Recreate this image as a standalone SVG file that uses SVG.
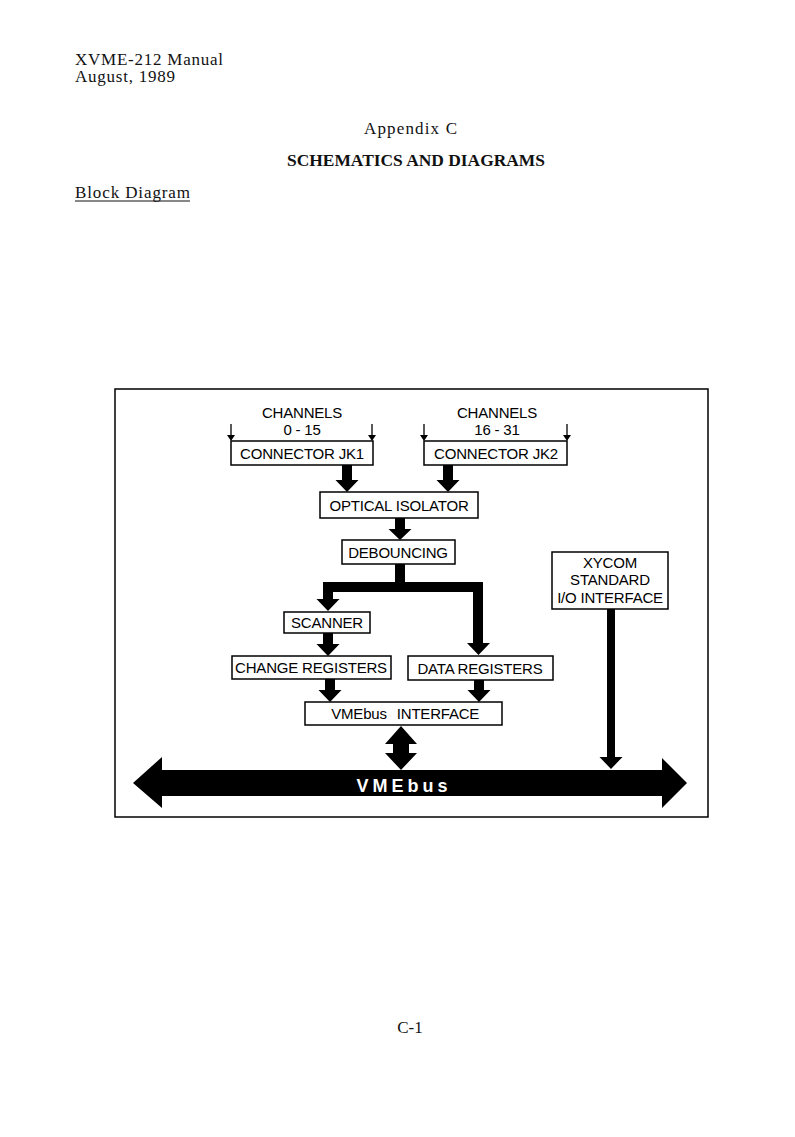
<svg xmlns="http://www.w3.org/2000/svg" width="795" height="1137" viewBox="0 0 795 1137">
<style>
.hd{font-family:"Liberation Serif","Times New Roman",serif;font-size:17px;fill:#111}
.t{font-family:"Liberation Sans",Arial,sans-serif;font-size:15px;fill:#000;text-anchor:middle;letter-spacing:-0.2px}
.box{fill:#fff;stroke:#000;stroke-width:1.5}
.fat{fill:#000;stroke:none}
.thin{stroke:#000;stroke-width:1.3;fill:none}
</style>
<rect width="795" height="1137" fill="#fff"/>
<g id="header">
<text class="hd" x="75" y="65" textLength="148" lengthAdjust="spacing">XVME-212 Manual</text>
<text class="hd" x="75" y="82" textLength="100" lengthAdjust="spacing">August, 1989</text>
<text class="hd" x="364" y="134" textLength="93" lengthAdjust="spacing">Appendix C</text>
<text class="hd" x="287" y="166" font-weight="bold" font-size="15" textLength="258" lengthAdjust="spacingAndGlyphs">SCHEMATICS AND DIAGRAMS</text>
<text class="hd" x="75" y="198" textLength="115" lengthAdjust="spacing">Block Diagram</text>
<line x1="75" y1="201" x2="190" y2="201" stroke="#111" stroke-width="1"/>
<text class="hd" x="410" y="1033" text-anchor="middle">C-1</text>
</g>
<rect id="frame" x="115" y="389" width="593" height="428" fill="none" stroke="#000" stroke-width="1.5"/>
<g id="connectors">
<line class="thin" x1="231" y1="424" x2="231" y2="436"/><path class="fat" d="M227,435 H235 L231,441 Z"/>
<line class="thin" x1="372" y1="424" x2="372" y2="436"/><path class="fat" d="M368,435 H376 L372,441 Z"/>
<line class="thin" x1="424" y1="424" x2="424" y2="436"/><path class="fat" d="M420,435 H428 L424,441 Z"/>
<line class="thin" x1="567" y1="424" x2="567" y2="436"/><path class="fat" d="M563,435 H571 L567,441 Z"/>
<path class="fat" d="M342,465 H352 V480 H358.5 L347,492 L335.5,480 H342 Z"/>
<path class="fat" d="M443,465 H453 V480 H459.5 L448,492 L436.5,480 H443 Z"/>
<path class="fat" d="M395,518 H405 V529 H411.5 L400,540 L388.5,529 H395 Z"/>
<path class="fat" d="M395,564 H405 V582 H483 V643 H490 L478.5,655 L467,643 H473 V592 H333 V599 H339.5 L328,611 L316.5,599 H323 V582 H395 Z"/>
<path class="fat" d="M323,633 H333 V644 H339.5 L328,656 L316.5,644 H323 Z"/>
<path class="fat" d="M325,679 H335 V690 H341.5 L330,702 L318.5,690 H325 Z"/>
<path class="fat" d="M474,680 H484 V690 H490.5 L479,702 L467.5,690 H474 Z"/>
<path class="fat" d="M607,609 H615 V757 H622.5 L611,769 L599.5,757 H607 Z"/>
<path class="fat" d="M401,726 L417,744 H409 V753 H417 L401,770 L385,753 H393 V744 H385 Z"/>
</g>
<g id="vmebus">
<path class="fat" d="M133,783 L162,757 V770 H662 V758 L687,783 L662,808 V796 H162 V808 Z"/>
<text x="404" y="792" font-family="Liberation Sans,Arial,sans-serif" font-size="18" font-weight="bold" fill="#fff" text-anchor="middle" letter-spacing="4">VMEbus</text>
</g>
<g id="channels1">
<text class="t" x="302" y="418">CHANNELS</text>
<text class="t" x="302" y="435">0 - 15</text>
</g>
<g id="channels2">
<text class="t" x="497" y="418">CHANNELS</text>
<text class="t" x="497" y="435">16 - 31</text>
</g>
<g id="jk1"><rect class="box" x="231" y="441" width="142" height="24"/><text class="t" x="302" y="459">CONNECTOR JK1</text></g>
<g id="jk2"><rect class="box" x="424" y="441" width="143" height="24"/><text class="t" x="496" y="459">CONNECTOR JK2</text></g>
<g id="optical"><rect class="box" x="320" y="492" width="158" height="26"/><text class="t" x="399" y="511">OPTICAL ISOLATOR</text></g>
<g id="debouncing"><rect class="box" x="342" y="540" width="113" height="24"/><text class="t" x="398" y="558">DEBOUNCING</text></g>
<g id="scanner"><rect class="box" x="284" y="612" width="86" height="21"/><text class="t" x="327" y="628">SCANNER</text></g>
<g id="change"><rect class="box" x="232" y="656" width="159" height="23"/><text class="t" x="311" y="673">CHANGE REGISTERS</text></g>
<g id="data"><rect class="box" x="408" y="656" width="145" height="24"/><text class="t" x="480" y="674">DATA REGISTERS</text></g>
<g id="vmeif"><rect class="box" x="305" y="702" width="197" height="23"/><text class="t" x="359" y="719">VMEbus</text><text class="t" x="438" y="719">INTERFACE</text></g>
<g id="xycom"><rect class="box" x="552" y="552" width="116" height="57"/><text class="t" x="610" y="568">XYCOM</text><text class="t" x="610" y="585">STANDARD</text><text class="t" x="610" y="603">I/O INTERFACE</text></g>
</svg>
